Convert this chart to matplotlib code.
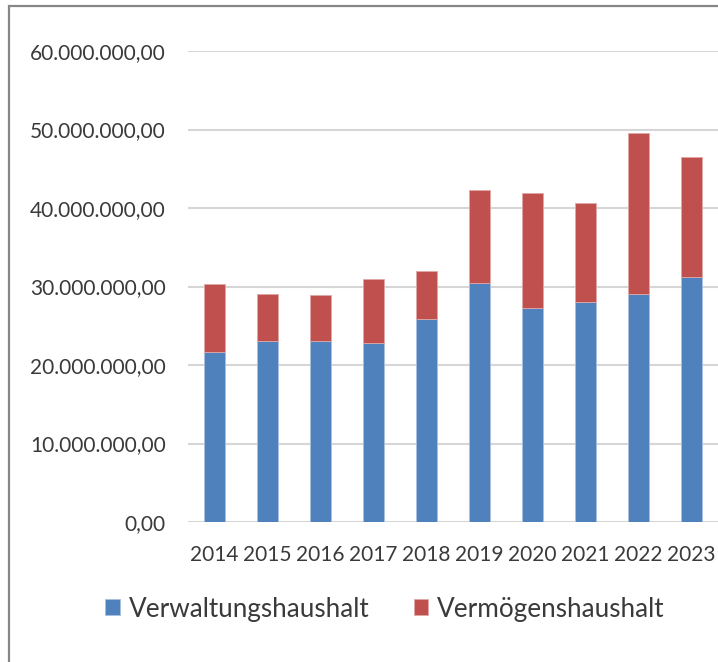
import matplotlib.pyplot as plt
from matplotlib.patches import Rectangle
from matplotlib.ticker import FuncFormatter
import numpy as np

# --- Daten (Euro) ---
jahre = ['2014', '2015', '2016', '2017', '2018', '2019', '2020', '2021', '2022', '2023']
verwaltung = [21.6, 23.05, 23.0, 22.8, 25.85, 30.4, 27.2, 28.0, 29.0, 31.15]   # Mio.
vermoegen = [8.7, 5.95, 5.9, 8.2, 6.15, 11.9, 14.7, 12.6, 20.5, 15.35]        # Mio.
verwaltung = np.array(verwaltung) * 1e6
vermoegen = np.array(vermoegen) * 1e6

blau = '#4F81BD'
rot = '#C0504D'
textfarbe = '#3a3a3a'

plt.rcParams['font.family'] = ['Lato', 'DejaVu Sans']

fig = plt.figure(figsize=(7.18, 6.62), dpi=100)
ax = fig.add_axes([188 / 718, 1 - 522 / 662, 530 / 718, (522 - 51) / 662])

x = np.arange(len(jahre))
ax.bar(x, verwaltung, width=0.4, color=blau, edgecolor='#a9c0de', linewidth=0.6,
       label='Verwaltungshaushalt', zorder=3)
ax.bar(x, vermoegen, width=0.4, bottom=verwaltung, color=rot, edgecolor='#e0a9a8',
       linewidth=0.6, label='Vermögenshaushalt', zorder=3)

ax.set_xlim(-0.5, len(jahre) - 0.5)
ax.set_ylim(0, 60e6)
ax.set_yticks(np.arange(0, 60e6 + 1, 10e6))
ax.yaxis.set_major_formatter(FuncFormatter(
    lambda v, pos: f"{v:,.2f}".replace(',', 'X').replace('.', ',').replace('X', '.')))
ax.set_xticks(x)
ax.set_xticklabels(jahre)

ax.grid(axis='y', color='#d6d6d6', linewidth=1.5, zorder=0)
for s in ax.spines.values():
    s.set_visible(False)
ax.tick_params(axis='both', length=0, labelsize=15, labelcolor=textfarbe)
ax.tick_params(axis='y', pad=16)
ax.tick_params(axis='x', pad=16.5)

# Legende unten
leg = fig.legend(loc='center', bbox_to_anchor=(385 / 718, 1 - 609 / 662), ncol=2,
                 frameon=False, fontsize=18.8, handlelength=0.55, handleheight=0.55,
                 handletextpad=0.35, columnspacing=1.7, labelcolor=textfarbe)

# Rahmen um das Diagramm
fig.patches.append(Rectangle((9 / 718, -0.1), 1.2, 1.1 - 6 / 662, transform=fig.transFigure,
                             fill=False, edgecolor='#878787', linewidth=1.6))

fig.savefig('out.png', dpi=100)
